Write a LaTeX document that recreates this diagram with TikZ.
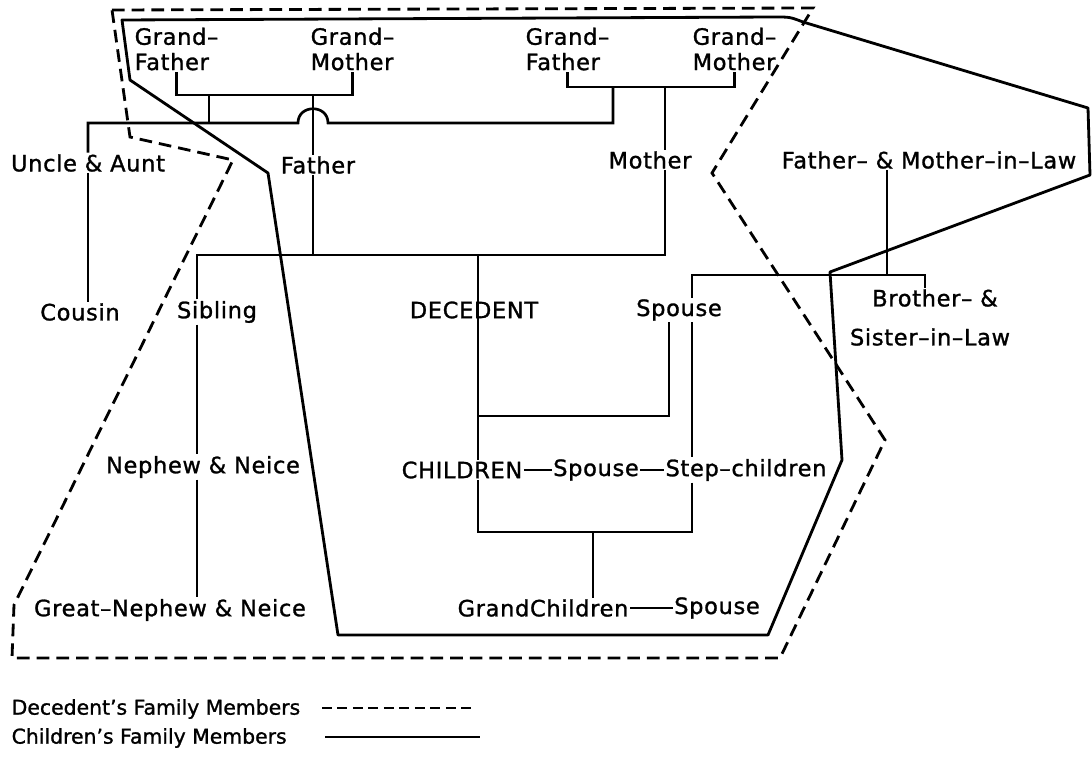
\documentclass[tikz,border=0pt]{standalone}
\usepackage{fontspec}
\setmainfont{DejaVu Sans}[LetterSpace=3, FakeBold=1.2]

\begin{document}
\begin{tikzpicture}[
    x=0.025cm, y=-0.025cm,
    lbl/.style={inner sep=1pt, font=\fontsize{16}{18}\selectfont},
    keytext/.style={inner sep=1pt, font=\fontsize{14.5}{17}\selectfont\addfontfeature{LetterSpace=0}},
    tie/.style={line width=1.9pt},
    decfam/.style={line width=2pt, dash pattern=on 9pt off 5pt},
    chfam/.style={line width=2pt, line join=round}
]
    \useasboundingbox (0,0) rectangle (1092,760);

    % grandparents
    \node[lbl, align=left, anchor=north west] (gfL) at (133,26) {Grand–\\Father};
    \node[lbl, align=left, anchor=north west] (gmL) at (309,26) {Grand–\\Mother};
    \node[lbl, align=left, anchor=north west] (gfR) at (524,26) {Grand–\\Father};
    \node[lbl, align=left, anchor=north west] (gmR) at (691,26) {Grand–\\Mother};

    % parents' generation
    \node[lbl] (uncle) at (88,163) {Uncle \& Aunt};
    \node[lbl] (father) at (318,165) {Father};
    \node[lbl] (mother) at (650,160) {Mother};
    \node[lbl] (inlaw) at (929,160) {Father– \& Mother–in–Law};

    % decedent's generation
    \node[lbl] (cousin) at (80,312) {Cousin};
    \node[lbl] (sibling) at (217,312) {Sibling};
    \node[lbl] (decedent) at (474,310) {DECEDENT};
    \node[lbl] (spouse) at (679,310) {Spouse};
    \node[lbl] (bro) at (935,298) {Brother– \&};
    \node[lbl] (sil) at (930,337) {Sister–in–Law};

    % children
    \node[lbl] (nephew) at (203,467) {Nephew \& Neice};
    \node[lbl] (children) at (462,470) {CHILDREN};
    \node[lbl] (cspouse) at (596,470) {Spouse};
    \node[lbl] (step) at (746,470) {Step–children};

    % grandchildren
    \node[lbl] (grnephew) at (170,610) {Great–Nephew \& Neice};
    \node[lbl] (grandch) at (543,608) {GrandChildren};
    \node[lbl] (gspouse) at (717,608) {Spouse};

    % junctions
    \coordinate (gpL) at (209,95);
    \coordinate (uL) at (209,123);
    \coordinate (fL) at (313,95);
    \coordinate (hop) at (298,123);
    \coordinate (gpR) at (613,87);
    \coordinate (mR) at (665,87);
    \coordinate (sibx) at (197,255);
    \coordinate (decx) at (478,255);
    \coordinate (mar) at (478,416);
    \coordinate (sdx) at (669,416);
    \coordinate (spx) at (692,275);
    \coordinate (ilx) at (887,275);
    \coordinate (bx) at (925,275);
    \coordinate (gcb) at (593,532);

    % family lines
    \draw[tie] (gfL.south) |- (gpL) -| (gmL.south);
    \draw[tie] (gfR.south) |- (gpR) -| (gmR.south);
    \draw[tie] (gpL) -- (uL);
    \draw[tie] (uncle.north) |- (hop) .. controls (298,104) and (328,104) .. (328,123) -- (gpR |- uL) -- (gpR);
    \draw[tie] (fL) -- (fL |- father.north);
    \draw[tie] (father.south -| fL) -- (fL |- sibx);
    \draw[tie] (mR) -- (mR |- mother.north);
    \draw[tie] (sibx |- sibling.north) -- (sibx) -- (mR |- sibx) -- (mR |- mother.south);
    \draw[tie] (uncle.south) -- (uncle.south |- cousin.north);
    \draw[tie] (sibx |- sibling.south) -- (sibx |- nephew.north);
    \draw[tie] (sibx |- nephew.south) -- (sibx |- grnephew.north);
    \draw[tie] (decx) -- (decx |- children.north);
    \draw[tie] (sdx |- spouse.south) -- (sdx) -- (mar);
    \draw[tie] (spx |- spouse.north) -- (spx) -- (bx) -- (bx |- bro.north);
    \draw[tie] (ilx |- inlaw.south) -- (ilx);
    \draw[tie] (spx |- spouse.south) -- (spx |- step.north);
    \draw[tie] (spx |- step.south) |- (gcb);
    \draw[tie] (decx |- children.south) |- (gcb) -- (gcb |- grandch.north);
    \draw[tie] (children.east) -- (cspouse.west);
    \draw[tie] (cspouse.east) -- (step.west);
    \draw[tie] (grandch.east) -- (gspouse.west);

    % outlines
    \draw[decfam] (112,10) -- (813,8) -- (712,173) -- (885,440) -- (780,658)
        -- (12,658) -- (14,605) -- (233,160) -- (130,137) -- cycle;
    \draw[chfam] (130,80) -- (122,20) -- (775,17) .. controls (790,17) .. (803,22)
        -- (1088,108) -- (1090,175) -- (830,272) -- (842,460) -- (768,635)
        -- (338,635) -- (268,173) -- cycle;

    % key
    \node[keytext, anchor=west] (key1) at (10,709) {Decedent's Family Members};
    \node[keytext, anchor=west] (key2) at (10,738) {Children's Family Members};
    \draw[line width=1.8pt, dash pattern=on 7pt off 4pt] (322,708) -- (473,708);
    \draw[tie] (325,737) -- (480,737);
\end{tikzpicture}
\end{document}
